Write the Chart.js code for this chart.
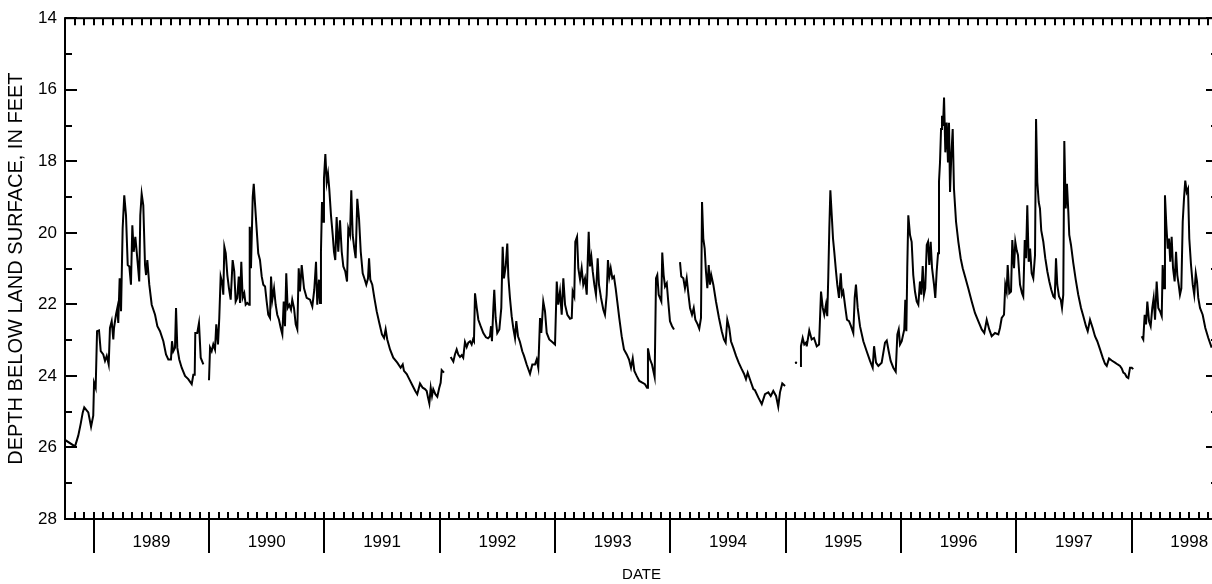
<!DOCTYPE html>
<html>
<head>
<meta charset="utf-8">
<script src="https://cdn.jsdelivr.net/npm/chart.js@4/dist/chart.umd.min.js"></script>
<style>
  html, body { margin: 0; padding: 0; background: #fff; overflow: hidden; }
  #wrap { position: absolute; left: 0; top: 0; width: 1222px; height: 584px; }
</style>
</head>
<body>
<div id="wrap"><canvas id="myChart"></canvas></div>
<script>
// water level record, decimal year vs depth below land surface (ft); null = gap in record
var years = [
  1988.750, 1988.837, 1988.865, 1988.886, 1988.904, 1988.917, 1988.952, 1988.976, 1988.995, 1989.002,
  1989.016, 1989.028, 1989.045, 1989.060, 1989.082, 1989.097, 1989.112, 1989.129, 1989.140, 1989.155,
  1989.169, 1989.175, 1989.192, 1989.204, 1989.212, 1989.224, 1989.236, 1989.250, 1989.264, 1989.279,
  1989.294, 1989.308, 1989.322, 1989.334, 1989.346, 1989.360, 1989.372, 1989.383, 1989.394, 1989.403,
  1989.415, 1989.429, 1989.444, 1989.453, 1989.464, 1989.481, 1989.502, 1989.531, 1989.551, 1989.574,
  1989.603, 1989.626, 1989.646, 1989.669, 1989.678, 1989.689, 1989.704, 1989.713, 1989.724, 1989.741,
  1989.762, 1989.791, 1989.819, 1989.849, 1989.863, 1989.875, 1989.880, 1989.897, 1989.912, 1989.927,
  1989.950, 1989.975,
  1989.999, 1990.008, 1990.022, 1990.036, 1990.051, 1990.062, 1990.077, 1990.088, 1990.100, 1990.114,
  1990.123, 1990.132, 1990.144, 1990.158, 1990.172, 1990.187, 1990.204, 1990.218, 1990.230, 1990.244,
  1990.257, 1990.268, 1990.279, 1990.291, 1990.305, 1990.317, 1990.331, 1990.346, 1990.352, 1990.363,
  1990.378, 1990.387, 1990.398, 1990.413, 1990.426, 1990.441, 1990.456, 1990.470, 1990.485, 1990.499,
  1990.513, 1990.528, 1990.537, 1990.548, 1990.563, 1990.577, 1990.591, 1990.606, 1990.621, 1990.635,
  1990.647, 1990.658, 1990.669, 1990.681, 1990.695, 1990.710, 1990.721, 1990.736, 1990.751, 1990.765,
  1990.777, 1990.788, 1990.803, 1990.823, 1990.846, 1990.875, 1990.895, 1990.912, 1990.927, 1990.938,
  1990.953, 1990.962, 1990.970, 1990.979, 1990.988, 1990.996, 1991.008, 1991.020, 1991.031, 1991.042,
  1991.057, 1991.072, 1991.083, 1991.094, 1991.106, 1991.120, 1991.135, 1991.150, 1991.164, 1991.181,
  1991.196, 1991.207, 1991.222, 1991.233, 1991.245, 1991.259, 1991.271, 1991.285, 1991.300, 1991.315,
  1991.332, 1991.346, 1991.363, 1991.378, 1991.387, 1991.398, 1991.415, 1991.433, 1991.453, 1991.476,
  1991.499, 1991.517, 1991.531, 1991.545, 1991.569, 1991.597, 1991.632, 1991.661, 1991.679, 1991.690,
  1991.714, 1991.736, 1991.766, 1991.788, 1991.805, 1991.829, 1991.852, 1991.872, 1991.887, 1991.898,
  1991.910, 1991.922, 1991.933, 1991.944, 1991.962, 1991.979, 1991.996, 1992.008, 1992.017, 1992.037,
  1992.065,
  1992.095, 1992.118, 1992.132, 1992.147, 1992.161, 1992.176, 1992.191, 1992.204, 1992.219, 1992.234,
  1992.248, 1992.263, 1992.277, 1992.289, 1992.297, 1992.306, 1992.321, 1992.335, 1992.355, 1992.378,
  1992.401, 1992.419, 1992.436, 1992.445, 1992.453, 1992.465, 1992.473, 1992.485, 1992.499, 1992.517,
  1992.534, 1992.546, 1992.557, 1992.572, 1992.586, 1992.595, 1992.609, 1992.624, 1992.638, 1992.653,
  1992.664, 1992.679, 1992.696, 1992.716, 1992.731, 1992.754, 1992.783, 1992.803, 1992.826, 1992.841,
  1992.855, 1992.870, 1992.881, 1992.898, 1992.913, 1992.928, 1992.950, 1992.976, 1993.000, 1993.015,
  1993.028, 1993.043, 1993.058, 1993.072, 1993.087, 1993.107, 1993.130, 1993.145, 1993.153, 1993.167,
  1993.176, 1993.191, 1993.202, 1993.217, 1993.231, 1993.245, 1993.260, 1993.275, 1993.283, 1993.292,
  1993.303, 1993.315, 1993.327, 1993.341, 1993.355, 1993.370, 1993.381, 1993.399, 1993.419, 1993.433,
  1993.448, 1993.459, 1993.471, 1993.483, 1993.497, 1993.511, 1993.526, 1993.540, 1993.557, 1993.578,
  1993.598, 1993.622, 1993.642, 1993.659, 1993.674, 1993.688, 1993.708, 1993.731, 1993.757, 1993.780,
  1993.798, 1993.806, 1993.824, 1993.841, 1993.864, 1993.876, 1993.887, 1993.899, 1993.910, 1993.922,
  1993.930, 1993.942, 1993.954, 1993.969, 1993.982, 1993.997, 1994.015, 1994.032,
  1994.058,
  1994.084, 1994.095, 1994.113, 1994.127, 1994.142, 1994.156, 1994.171, 1994.188, 1994.203, 1994.217,
  1994.237, 1994.251, 1994.266, 1994.275, 1994.286, 1994.298, 1994.309, 1994.321, 1994.333, 1994.344,
  1994.355, 1994.373, 1994.396, 1994.422, 1994.446, 1994.465, 1994.480, 1994.494, 1994.511, 1994.526,
  1994.546, 1994.570, 1994.593, 1994.616, 1994.639, 1994.656, 1994.671, 1994.691, 1994.720, 1994.734,
  1994.763, 1994.793, 1994.821, 1994.850, 1994.871, 1994.893, 1994.917, 1994.936, 1994.951, 1994.971,
  1994.995,
  1995.040, 1995.090, 1995.108,
  1995.125, 1995.133, 1995.148, 1995.162, 1995.177, 1995.183, 1995.205, 1995.226, 1995.246, 1995.270,
  1995.290, 1995.307, 1995.322, 1995.335, 1995.350, 1995.361, 1995.370, 1995.379, 1995.388, 1995.400,
  1995.411, 1995.422, 1995.437, 1995.448, 1995.463, 1995.478, 1995.489, 1995.500, 1995.518, 1995.532,
  1995.550, 1995.567, 1995.587, 1995.599, 1995.610, 1995.625, 1995.645, 1995.674, 1995.703, 1995.732,
  1995.755, 1995.767, 1995.784, 1995.804, 1995.833, 1995.862, 1995.877, 1995.894, 1995.911, 1995.934,
  1995.955, 1995.969, 1995.981, 1995.992, 1996.007, 1996.029, 1996.038, 1996.047, 1996.055, 1996.064,
  1996.079, 1996.093, 1996.107, 1996.122, 1996.137, 1996.151, 1996.165, 1996.177, 1996.189, 1996.200,
  1996.211, 1996.224, 1996.235, 1996.246, 1996.258, 1996.270, 1996.287, 1996.298, 1996.310, 1996.322,
  1996.330, 1996.339, 1996.348, 1996.356, 1996.365, 1996.374, 1996.385, 1996.397, 1996.408, 1996.417,
  1996.426, 1996.437, 1996.449, 1996.460, 1996.478, 1996.498, 1996.518, 1996.536, 1996.556, 1996.584,
  1996.614, 1996.642, 1996.671, 1996.701, 1996.723, 1996.744, 1996.766, 1996.787, 1996.816, 1996.845,
  1996.859, 1996.874, 1996.894, 1996.905, 1996.917, 1996.926, 1996.940, 1996.955, 1996.966, 1996.981,
  1996.992, 1997.004, 1997.015, 1997.033, 1997.050, 1997.061, 1997.074, 1997.085, 1997.096, 1997.108,
  1997.120, 1997.134, 1997.148, 1997.163, 1997.172, 1997.183, 1997.195, 1997.206, 1997.217, 1997.235,
  1997.252, 1997.270, 1997.287, 1997.304, 1997.322, 1997.334, 1997.345, 1997.356, 1997.371, 1997.386,
  1997.397, 1997.408, 1997.417, 1997.429, 1997.440, 1997.452, 1997.460, 1997.475, 1997.495, 1997.516,
  1997.538, 1997.562, 1997.582, 1997.605, 1997.620, 1997.640, 1997.663, 1997.683, 1997.703, 1997.727,
  1997.750, 1997.770, 1997.785, 1997.805, 1997.828, 1997.857, 1997.880, 1997.900, 1997.915, 1997.929,
  1997.943, 1997.958, 1997.972, 1997.987, 1998.002, 1998.015,
  1998.050,
  1998.088, 1998.102, 1998.114, 1998.126, 1998.137, 1998.152, 1998.166, 1998.180, 1998.192, 1998.204,
  1998.218, 1998.232, 1998.247, 1998.262, 1998.270, 1998.282, 1998.290, 1998.302, 1998.314, 1998.325,
  1998.336, 1998.348, 1998.360, 1998.374, 1998.386, 1998.397, 1998.409, 1998.420, 1998.432, 1998.444,
  1998.455, 1998.466, 1998.479, 1998.490, 1998.501, 1998.516, 1998.531, 1998.544, 1998.557, 1998.568,
  1998.579, 1998.594, 1998.617, 1998.640, 1998.666, 1998.695
];
var depths = [
  25.79, 25.97, 25.67, 25.34, 25.02, 24.88, 25.02, 25.42, 25.11, 24.19,
  24.33, 22.75, 22.73, 23.31, 23.40, 23.58, 23.44, 23.68, 22.66, 22.47,
  22.98, 22.66, 22.29, 22.10, 22.52, 21.27, 22.19, 19.88, 18.95, 19.51,
  20.90, 20.94, 21.45, 19.79, 20.53, 20.11, 20.53, 20.94, 21.36, 19.51,
  18.91, 19.23, 20.90, 21.18, 20.76, 21.45, 22.01, 22.29, 22.61, 22.75,
  23.03, 23.40, 23.54, 23.54, 23.03, 23.31, 23.21, 22.10, 23.21, 23.54,
  23.77, 24.00, 24.09, 24.23, 23.97, 23.97, 22.80, 22.80, 22.52, 23.49,
  23.68, null,
  24.12, 23.21, 23.31, 23.12, 23.26, 22.56, 23.12, 22.38, 21.22, 21.41,
  21.73, 20.39, 20.57, 21.18, 21.55, 21.87, 20.76, 21.08, 21.92, 21.82,
  21.22, 21.96, 20.81, 21.82, 21.69, 22.01, 21.96, 22.01, 19.83, 20.99,
  19.00, 18.63, 19.19, 19.93, 20.57, 20.76, 21.22, 21.45, 21.50, 21.92,
  22.29, 22.38, 21.22, 21.87, 21.55, 22.01, 22.29, 22.43, 22.66, 22.84,
  21.92, 22.61, 21.13, 22.10, 22.01, 22.15, 21.87, 22.10, 22.56, 22.70,
  20.99, 21.64, 20.90, 21.55, 21.82, 21.87, 22.06, 21.59, 20.81, 22.01,
  21.31, 21.96, 20.53, 19.14, 19.69, 18.49, 17.80, 18.58, 18.35, 18.77,
  19.51, 20.06, 20.53, 20.76, 19.56, 20.53, 19.65, 20.53, 20.94, 21.08,
  21.36, 19.88, 20.06, 18.81, 20.06, 20.44, 20.71, 19.05, 19.60, 20.53,
  21.13, 21.27, 21.45, 21.27, 20.71, 21.31, 21.45, 21.82, 22.19, 22.52,
  22.84, 22.94, 22.70, 22.98, 23.26, 23.49, 23.63, 23.77, 23.68, 23.86,
  23.95, 24.09, 24.28, 24.42, 24.51, 24.21, 24.33, 24.37, 24.42, 24.60,
  24.77, 24.33, 24.56, 24.37, 24.51, 24.58, 24.33, 24.19, 23.84, 23.91,
  null,
  23.47, 23.60, 23.40, 23.26, 23.40, 23.47, 23.42, 23.49, 23.05, 23.19,
  23.07, 23.03, 23.12, 22.98, 23.03, 21.69, 22.10, 22.43, 22.61, 22.80,
  22.92, 22.95, 22.89, 22.61, 23.03, 22.10, 21.59, 22.38, 22.80, 22.70,
  22.10, 20.39, 21.27, 20.94, 20.30, 21.22, 21.82, 22.33, 22.66, 22.94,
  22.47, 22.89, 23.05, 23.31, 23.44, 23.68, 23.94, 23.68, 23.68, 23.54,
  23.77, 22.38, 22.80, 21.92, 22.19, 22.80, 22.98, 23.05, 23.12, 21.36,
  22.01, 21.64, 22.29, 21.27, 22.01, 22.29, 22.40, 22.38, 21.64, 21.78,
  20.25, 20.11, 20.99, 21.31, 20.99, 21.45, 21.27, 21.73, 20.85, 19.97,
  20.94, 20.67, 21.08, 21.45, 21.73, 20.71, 21.45, 21.82, 22.15, 22.29,
  21.73, 20.76, 21.22, 20.99, 21.27, 21.22, 21.55, 21.92, 22.38, 22.89,
  23.26, 23.40, 23.54, 23.77, 23.51, 23.86, 24.00, 24.14, 24.19, 24.23,
  24.33, 23.23, 23.54, 23.68, 24.03, 21.27, 21.18, 21.73, 21.82, 21.92,
  20.55, 21.18, 21.50, 21.41, 21.92, 22.47, 22.61, 22.70,
  null,
  20.82, 21.22, 21.27, 21.55, 21.27, 21.69, 22.10, 22.29, 22.10, 22.43,
  22.56, 22.68, 22.38, 19.14, 20.16, 20.44, 21.08, 21.55, 20.90, 21.45,
  21.18, 21.45, 21.92, 22.38, 22.75, 22.98, 23.07, 22.43, 22.66, 23.03,
  23.21, 23.44, 23.63, 23.79, 23.94, 24.09, 23.91, 24.10, 24.37, 24.40,
  24.60, 24.79, 24.51, 24.46, 24.56, 24.42, 24.56, 24.86, 24.46, 24.21,
  24.28,
  null, 23.63, null,
  23.72, 23.17, 22.94, 23.12, 23.07, 23.17, 22.73, 22.98, 22.94, 23.17,
  23.12, 21.64, 22.10, 22.29, 22.01, 22.33, 21.22, 19.88, 18.81, 19.51,
  20.16, 20.53, 21.08, 21.45, 21.82, 21.13, 21.73, 21.64, 22.10, 22.43,
  22.47, 22.61, 22.80, 21.82, 21.45, 22.10, 22.61, 23.03, 23.31, 23.58,
  23.77, 23.17, 23.63, 23.72, 23.63, 23.07, 23.01, 23.31, 23.58, 23.77,
  23.88, 22.84, 22.70, 23.12, 23.03, 22.70, 21.87, 22.75, 20.99, 19.51,
  20.06, 20.25, 21.18, 21.64, 21.92, 22.01, 21.36, 21.73, 20.93, 21.73,
  21.55, 20.34, 20.25, 20.90, 20.25, 20.99, 21.45, 21.82, 21.08, 20.57,
  18.58, 18.03, 17.10, 16.73, 17.01, 16.22, 17.75, 16.92, 18.03, 16.92,
  18.86, 17.84, 17.10, 18.77, 19.69, 20.25, 20.71, 20.99, 21.22, 21.55,
  21.92, 22.24, 22.47, 22.70, 22.80, 22.43, 22.70, 22.89, 22.80, 22.84,
  22.66, 22.38, 22.29, 21.45, 21.64, 20.90, 21.69, 21.64, 20.20, 20.99,
  20.25, 20.49, 20.62, 21.45, 21.69, 21.78, 20.20, 20.71, 19.23, 20.81,
  20.44, 21.13, 21.27, 20.62, 16.82, 18.58, 19.14, 19.32, 19.93, 20.25,
  20.71, 21.08, 21.36, 21.59, 21.78, 21.82, 20.71, 21.45, 21.78, 21.87,
  22.10, 21.73, 17.43, 19.32, 18.63, 19.42, 20.06, 20.34, 20.85, 21.31,
  21.73, 22.10, 22.33, 22.61, 22.75, 22.43, 22.66, 22.89, 23.03, 23.26,
  23.49, 23.66, 23.72, 23.51, 23.57, 23.63, 23.68, 23.72, 23.79, 23.91,
  23.94, 24.03, 24.06, 23.77, 23.77, 23.81,
  null,
  22.89, 22.98, 22.29, 22.56, 21.92, 22.47, 22.61, 22.10, 21.82, 22.43,
  21.36, 22.10, 22.19, 22.33, 20.90, 21.55, 18.95, 19.79, 20.44, 20.16,
  20.81, 20.11, 20.99, 21.36, 20.53, 21.18, 21.45, 21.73, 21.55, 19.69,
  19.05, 18.54, 18.86, 18.77, 20.16, 20.90, 21.45, 21.73, 21.13, 21.36,
  21.82, 22.10, 22.29, 22.66, 22.94, 23.21
];

// axis settings
var xMin = 1988.75;
var xMax = 1998.75;
var yTicks = [14, 16, 18, 20, 22, 24, 26, 28];
var yearLabels = ['1989', '1990', '1991', '1992', '1993', '1994', '1995', '1996', '1997', '1998'];

var font = "'Liberation Sans', Arial, Helvetica, sans-serif";

var points = years.map(function (x, i) { return { x: x, y: depths[i] }; });

// frame and tick marks drawn like the original (ticks point inward, year ticks below)
var frameTicks = {
  id: 'frameTicks',
  afterDraw: function (chart) {
    var c = chart.ctx;
    var xs = chart.scales.x, ys = chart.scales.y;
    var a = chart.chartArea;
    c.save();
    c.strokeStyle = '#000';
    c.lineWidth = 2;
    c.strokeRect(a.left, a.top, a.right - a.left, a.bottom - a.top);
    c.beginPath();
    // monthly ticks top and bottom
    for (var m = 0; m <= 120; m++) {
      var v = xMin + m / 12;
      if (v > xMax + 1e-6) break;
      var px = Math.round(xs.getPixelForValue(v));
      c.moveTo(px, a.top); c.lineTo(px, a.top + 7);
      c.moveTo(px, a.bottom); c.lineTo(px, a.bottom - 7);
    }
    // year boundary ticks below the axis
    for (var yr = 1989; yr <= 1998; yr++) {
      var py = Math.round(xs.getPixelForValue(yr));
      c.moveTo(py, a.bottom); c.lineTo(py, a.bottom + 34);
    }
    // depth ticks, left and right
    for (var d = 14; d <= 28; d++) {
      var yy = Math.round(ys.getPixelForValue(d));
      var len = (d % 2 === 0) ? 12 : 7;
      c.moveTo(a.left, yy); c.lineTo(a.left + len, yy);
      c.moveTo(a.right, yy); c.lineTo(a.right - len, yy);
    }
    c.stroke();
    c.restore();
  }
};

var ctx = document.getElementById('myChart').getContext('2d');
var myChart = new Chart(ctx, {
  type: 'line',
  data: {
    datasets: [{
      label: 'Depth below land surface',
      data: points,
      borderColor: '#000',
      backgroundColor: '#000',
      borderWidth: 2,
      tension: 0,
      spanGaps: false,
      pointRadius: function (p) {
        var i = p.dataIndex;
        var prev = depths[i - 1], next = depths[i + 1];
        return (depths[i] != null && prev == null && next == null) ? 1.2 : 0;
      },
      pointBorderWidth: 0
    }]
  },
  options: {
    responsive: true,
    maintainAspectRatio: false,
    animation: false,
    devicePixelRatio: 1,
    layout: { padding: { left: 0, right: 4, top: 15, bottom: 0 } },
    plugins: { legend: { display: false }, tooltip: { enabled: false } },
    scales: {
      x: {
        type: 'linear',
        min: xMin,
        max: xMax,
        afterBuildTicks: function (scale) {
          scale.ticks = yearLabels.map(function (y) { return { value: Number(y) + 0.5 }; });
        },
        afterFit: function (scale) { scale.height = 65; },
        grid: { display: false, drawTicks: false },
        border: { display: false },
        ticks: {
          autoSkip: false,
          maxRotation: 0,
          padding: 13,
          color: '#000',
          font: { family: font, size: 17 },
          callback: function (v) { return String(Math.floor(v)); }
        },
        title: {
          display: true,
          text: 'DATE',
          color: '#000',
          font: { family: font, size: 15 },
          padding: { top: 0, bottom: 0 }
        }
      },
      y: {
        type: 'linear',
        reverse: true,
        min: 14,
        max: 28,
        afterBuildTicks: function (scale) {
          scale.ticks = yTicks.map(function (v) { return { value: v }; });
        },
        afterFit: function (scale) { scale.width = 65; },
        grid: { display: false, drawTicks: false },
        border: { display: false },
        ticks: {
          padding: 8,
          color: '#000',
          font: { family: font, size: 17 }
        },
        title: {
          display: true,
          text: 'DEPTH BELOW LAND SURFACE, IN FEET',
          color: '#000',
          font: { family: font, size: 20 },
          padding: { top: 4, bottom: 0 }
        }
      }
    }
  },
  plugins: [frameTicks]
});
</script>
</body>
</html>
